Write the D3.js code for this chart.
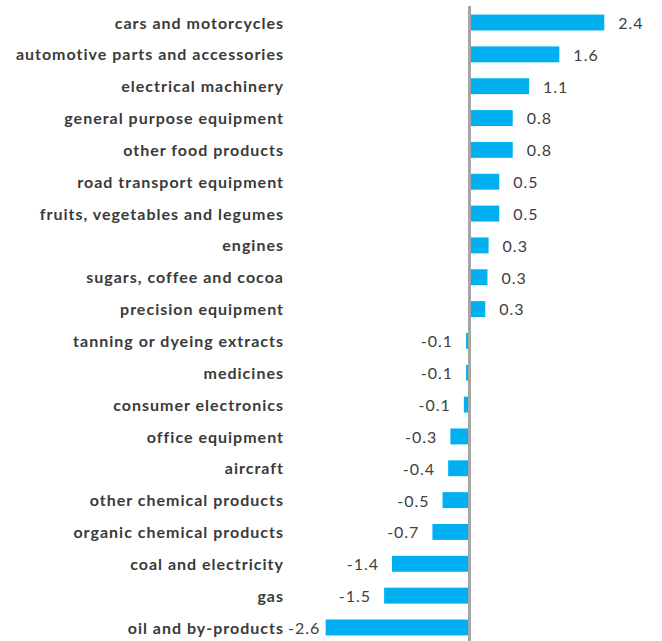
<!DOCTYPE html>
<html>
<head>
<meta charset="utf-8">
<script src="https://cdn.jsdelivr.net/npm/d3@7"></script>
<style>
  html, body { margin: 0; padding: 0; background: #ffffff; }
  svg { display: block; }
</style>
</head>
<body>
<svg id="chart" width="662" height="641"></svg>
<script>
const categories = [
  "cars and motorcycles",
  "automotive parts and accessories",
  "electrical machinery",
  "general purpose equipment",
  "other food products",
  "road transport equipment",
  "fruits, vegetables and legumes",
  "engines",
  "sugars, coffee and cocoa",
  "precision equipment",
  "tanning or dyeing extracts",
  "medicines",
  "consumer electronics",
  "office equipment",
  "aircraft",
  "other chemical products",
  "organic chemical products",
  "coal and electricity",
  "gas",
  "oil and by-products"
];
const values = [2.4, 1.6, 1.06, 0.77, 0.77, 0.53, 0.53, 0.34, 0.32, 0.28,
  -0.06, -0.06, -0.1, -0.34, -0.38, -0.48, -0.66, -1.38, -1.52, -2.56];

const W = 662, H = 641;
const svg = d3.select("#chart");

const x = d3.scaleLinear().domain([-2.56, 2.4]).range([325.7, 604.3]);
const y = d3.scaleBand().domain(categories).range([6.6, 643.4]).paddingInner(0.5).paddingOuter(0.25);

const labelRight = 284;
const fontFam = "Lato, 'Open Sans', sans-serif";

// bars
svg.append("g").selectAll("rect").data(categories).join("rect")
  .attr("x", (d, i) => Math.min(x(values[i]), x(0)))
  .attr("y", d => y(d))
  .attr("width", (d, i) => Math.abs(x(values[i]) - x(0)))
  .attr("height", y.bandwidth())
  .attr("fill", "#00B0F0");

// zero line
svg.append("line")
  .attr("x1", x(0)).attr("x2", x(0))
  .attr("y1", 6).attr("y2", H)
  .attr("stroke", "#A6A6A6").attr("stroke-width", 3);

// category labels
svg.append("g").selectAll("text").data(categories).join("text")
  .attr("x", labelRight)
  .attr("y", d => y(d) + y.bandwidth() / 2)
  .attr("dy", "0.38em")
  .attr("text-anchor", "end")
  .attr("font-family", fontFam)
  .attr("font-weight", "bold")
  .attr("font-size", 16)
  .attr("letter-spacing", "1px")
  .attr("fill", "#3a3a3a")
  .text(d => d);

// value labels
const fmt = d3.format(".1f");
const vl = svg.append("g").selectAll("text").data(categories).join("text")
  .attr("y", d => y(d) + y.bandwidth() / 2)
  .attr("dy", "0.4em")
  .attr("font-family", fontFam)
  .attr("font-size", 16)
  .attr("letter-spacing", "1px")
  .attr("fill", "#404040")
  .text((d, i) => fmt(values[i]).replace("\u2212", "-"));

vl.each(function(d, i) {
  const v = values[i];
  const t = d3.select(this);
  if (v >= 0) {
    t.attr("x", x(v) + 14).attr("text-anchor", "start");
  } else {
    const w = this.getComputedTextLength();
    let end = x(v) - 13;
    if (end - w < labelRight + 4) end = labelRight + 4 + w;
    t.attr("x", end).attr("text-anchor", "end");
  }
});
</script>
</body>
</html>
